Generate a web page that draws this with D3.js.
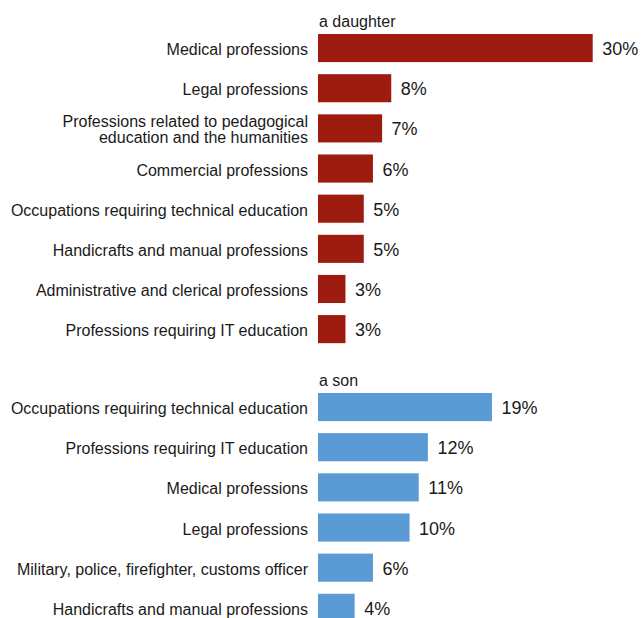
<!DOCTYPE html>
<html>
<head>
<meta charset="utf-8">
<script src="https://cdn.jsdelivr.net/npm/d3@7"></script>
<style>
  html, body { margin: 0; padding: 0; background: #fff; }
  svg { display: block; font-family: Arial, "Liberation Sans", sans-serif; }
</style>
</head>
<body>
<svg id="chart" width="641" height="618"></svg>
<script>
// Groups, categories and shares (%)
const groupTitles = ["a daughter", "a son"];

const daughterCategories = [
  "Medical professions",
  "Legal professions",
  "Professions related to pedagogical\neducation and the humanities",
  "Commercial professions",
  "Occupations requiring technical education",
  "Handicrafts and manual professions",
  "Administrative and clerical professions",
  "Professions requiring IT education"
];
const daughterValues = [30, 8, 7, 6, 5, 5, 3, 3];

const sonCategories = [
  "Occupations requiring technical education",
  "Professions requiring IT education",
  "Medical professions",
  "Legal professions",
  "Military, police, firefighter, customs officer",
  "Handicrafts and manual professions"
];
const sonValues = [19, 12, 11, 10, 6, 4];

const colors = ["#9e1b10", "#5b9bd5"];

const svg = d3.select("#chart");
const rowStep = 40.15;
const barLeft = 318;

const x = d3.scaleLinear().domain([0, 30]).range([barLeft, barLeft + 274.7]);

function drawGroup(title, cats, vals, color, top) {
  const y = d3.scaleBand()
    .domain(d3.range(cats.length))
    .range([top, top + cats.length * rowStep])
    .paddingInner(0.3)
    .paddingOuter(0.15);

  const g = svg.append("g");

  g.append("text")
    .attr("x", barLeft + 1)
    .attr("y", y(0) - 7.5)
    .attr("font-size", 16)
    .attr("fill", "#1a1a1a")
    .text(title);

  g.selectAll("rect")
    .data(vals)
    .join("rect")
    .attr("x", x(0))
    .attr("y", (d, i) => y(i))
    .attr("width", d => x(d) - x(0))
    .attr("height", y.bandwidth())
    .attr("fill", color);

  g.selectAll("text.val")
    .data(vals)
    .join("text")
    .attr("class", "val")
    .attr("x", d => x(d) + 9.5)
    .attr("y", (d, i) => y(i) + y.bandwidth() / 2 + 7)
    .attr("font-size", 18)
    .attr("fill", "#1a1a1a")
    .text(d => d + "%");

  const labels = g.selectAll("text.cat")
    .data(cats)
    .join("text")
    .attr("class", "cat")
    .attr("text-anchor", "end")
    .attr("font-size", 16)
    .attr("fill", "#1a1a1a");

  labels.each(function (d, i) {
    const lines = d.split("\n");
    const mid = y(i) + y.bandwidth() / 2;
    const lh = 16;
    const first = mid + 7 - (lines.length - 1) * lh / 2;
    d3.select(this).selectAll("tspan")
      .data(lines)
      .join("tspan")
      .attr("x", barLeft - 10)
      .attr("y", (l, k) => first + k * lh)
      .text(l => l);
  });
}

drawGroup(groupTitles[0], daughterCategories, daughterValues, colors[0], 28);
drawGroup(groupTitles[1], sonCategories, sonValues, colors[1], 387);
</script>
</body>
</html>
